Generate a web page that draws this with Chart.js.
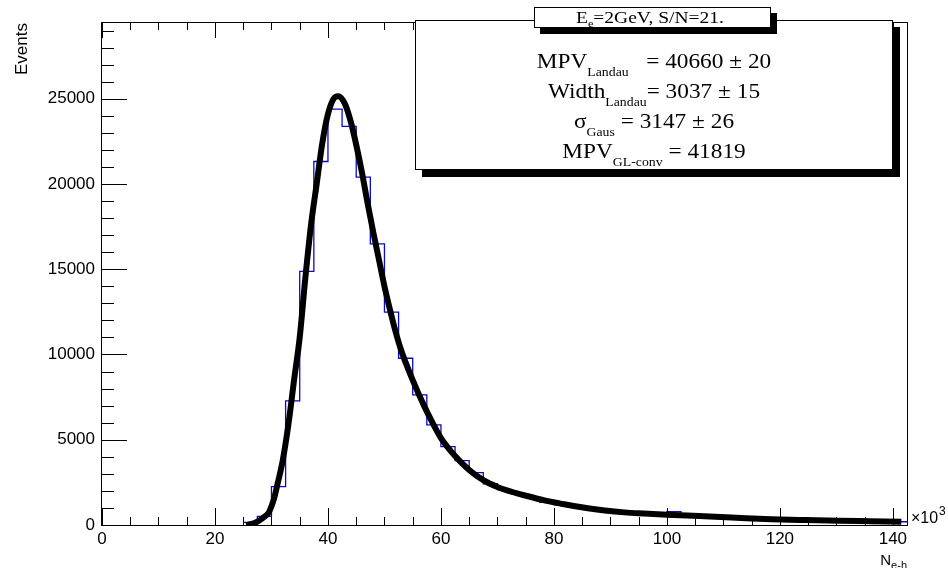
<!DOCTYPE html>
<html>
<head>
<meta charset="utf-8">
<script src="https://cdn.jsdelivr.net/npm/chart.js@4.4.1/dist/chart.umd.min.js"></script>
<style>
  html, body { margin: 0; padding: 0; background: #fff; }
  #wrap { width: 948px; height: 568px; }
</style>
</head>
<body>
<div id="wrap"><canvas id="landauChart" width="948" height="568"></canvas></div>
<script>
// histogram: lower bin edges (x10^3 e-h pairs), last entry is the upper edge
const binEdges = [0, 2.5, 5, 7.5, 10, 12.5, 15, 17.5, 20, 22.5,
  25, 27.5, 30, 32.5, 35, 37.5, 40, 42.5, 45, 47.5,
  50, 52.5, 55, 57.5, 60, 62.5, 65, 67.5, 70, 72.5,
  75, 77.5, 80, 82.5, 85, 87.5, 90, 92.5, 95, 97.5,
  100, 102.5, 105, 107.5, 110, 112.5, 115, 117.5, 120, 122.5,
  125, 127.5, 130, 132.5, 135, 137.5, 140, 142.5];
const binCounts = [0, 0, 0, 0, 0, 0, 0, 0, 0, 0,
  150, 500, 2250, 7280, 14870, 21320, 24390, 23380, 20400, 16490,
  12480, 9780, 7630, 5870, 4600, 3780, 3070, 2420, 2080, 1820,
  1600, 1330, 1200, 1080, 960, 880, 800, 730, 680, 620,
  780, 560, 520, 480, 450, 400, 370, 340, 320, 300,
  290, 270, 250, 240, 220, 210, 190];

// Landau (x) Gauss fit curve
const fitX = [25.5, 26.5, 27.5, 28.5, 29.5, 30, 30.5, 31, 32, 33, 34, 35, 36, 37, 38, 39, 40, 41, 41.8,
  43, 44, 45, 46, 47, 48, 49, 50, 51, 52, 53, 55, 57, 58.5, 60, 62.5, 65, 67.5, 70, 72.5, 75,
  78.5, 81, 83.5, 86, 89, 92.5, 96, 100, 103.5, 108.5, 114, 118.5, 124.5, 130.5, 136, 141.5];
const fitY = [0, 60, 200, 420, 720, 1100, 1600, 2300, 3800, 5900, 8500, 11000, 14500, 17600, 20000, 22400, 24100, 25000, 25150,
  24700, 23700, 22300, 20700, 18900, 17200, 15600, 14000, 12600, 11300, 10200, 8500, 7000, 6000, 5100, 4050, 3230, 2630, 2230, 1950, 1720,
  1430, 1270, 1110, 980, 850, 740, 670, 600, 550, 490, 400, 340, 290, 250, 220, 190];

// axis tick labels
const xTickValues = [0, 20, 40, 60, 80, 100, 120, 140];
const yTickValues = [0, 5000, 10000, 15000, 20000, 25000];

// stats box text
const paveTitle = ['E', 'e', '=2GeV, S/N=21.'];
const statNames = ['MPV', 'Width', '\u03c3', 'MPV'];
const statSubs = ['Landau', 'Landau', 'Gaus', 'GL-conv'];
const statValues = ['   = 40660 \u00b1 20', '= 3037 \u00b1 15', ' = 3147 \u00b1 26', ' = 41819'];

const serif = '"Liberation Serif", "Times New Roman", serif';
const sans = '"Liberation Sans", Arial, sans-serif';

function richWidth(ctx, parts) {
  let w = 0;
  parts.forEach(p => { ctx.font = p.font; w += ctx.measureText(p.text).width; });
  return w;
}

function drawRich(ctx, parts, cx, baseline, sx) {
  const w = richWidth(ctx, parts) * sx;
  ctx.save();
  ctx.translate(cx - w / 2, baseline);
  ctx.scale(sx, 1);
  let x = 0;
  parts.forEach(p => {
    ctx.font = p.font;
    ctx.fillText(p.text, x, p.dy || 0);
    x += ctx.measureText(p.text).width;
  });
  ctx.restore();
}

function pave(ctx, x1, y1, x2, y2, sh) {
  ctx.fillStyle = '#000';
  ctx.fillRect(x1 + sh, y1 + sh, x2 - x1, y2 - y1);
  ctx.fillStyle = '#fff';
  ctx.fillRect(x1, y1, x2 - x1, y2 - y1);
  ctx.strokeStyle = '#000';
  ctx.lineWidth = 1;
  ctx.strokeRect(x1 + 0.5, y1 + 0.5, x2 - x1 - 1, y2 - y1 - 1);
}

const rootStyle = {
  id: 'rootStyle',
  afterDatasetsDraw(chart) {
    const ctx = chart.ctx, a = chart.chartArea;
    const xs = chart.scales.x, ys = chart.scales.y;
    ctx.save();
    ctx.strokeStyle = '#000';
    ctx.lineWidth = 1;
    ctx.beginPath();
    // x ticks (bottom and top), 4 divisions per major step
    const xStep = (xTickValues[1] - xTickValues[0]) / 4;
    for (let k = 0; xs.min + k * xStep <= xs.max + 1e-9; k++) {
      const v = xs.min + k * xStep;
      const px = Math.round(xs.getPixelForValue(v)) + 0.5;
      const major = k % 4 === 0;
      ctx.moveTo(px, a.bottom); ctx.lineTo(px, a.bottom - (major ? 17 : 8));
      ctx.moveTo(px, a.top); ctx.lineTo(px, a.top + (major ? 16 : 8));
    }
    // y ticks, 5 divisions per major step
    const yStep = (yTickValues[1] - yTickValues[0]) / 5;
    for (let k = 1; ys.min + k * yStep <= ys.max + 1e-9; k++) {
      const v = ys.min + k * yStep;
      const py = Math.round(ys.getPixelForValue(v)) + 0.5;
      const major = k % 5 === 0;
      ctx.moveTo(a.left, py); ctx.lineTo(a.left + (major ? 25 : 12), py);
    }
    ctx.stroke();
    ctx.strokeRect(Math.round(a.left) - 0.5, Math.round(a.top) + 0.5,
      Math.round(a.right - a.left) + 1, Math.round(a.bottom - a.top));
    ctx.restore();
  },
  afterDraw(chart) {
    const ctx = chart.ctx;
    ctx.save();
    ctx.fillStyle = '#000';
    ctx.textBaseline = 'alphabetic';

    // y title
    ctx.save();
    ctx.translate(27, 23);
    ctx.rotate(-Math.PI / 2);
    ctx.textAlign = 'right';
    ctx.font = '17px ' + sans;
    ctx.fillText('Events', 0, 0);
    ctx.restore();

    // x title N_e-h, right aligned at axis end
    ctx.textAlign = 'left';
    const nParts = [{ text: 'N', font: '15px ' + sans }, { text: 'e-h', font: '11px ' + sans, dy: 4 }];
    const nw = richWidth(ctx, nParts);
    drawRich(ctx, nParts, 907 - nw / 2, 565, 1);

    // x10^3
    ctx.font = '16px ' + sans;
    ctx.fillText('\u00d710', 911, 523);
    ctx.font = '12px ' + sans;
    ctx.fillText('3', 939, 515);

    // stats pave
    pave(ctx, 415, 20, 893, 170, 7);
    ctx.fillStyle = '#000';
    const baselines = [68, 98, 128, 158];
    statNames.forEach((n, i) => {
      drawRich(ctx, [
        { text: n, font: '22px ' + serif },
        { text: statSubs[i], font: '13px ' + serif, dy: 8 },
        { text: statValues[i], font: '22px ' + serif }
      ], 654, baselines[i], 1.06);
    });

    // title pave
    pave(ctx, 534, 7, 771, 28, 6);
    ctx.fillStyle = '#000';
    drawRich(ctx, [
      { text: paveTitle[0], font: '16px ' + serif },
      { text: paveTitle[1], font: '10px ' + serif, dy: 4 },
      { text: paveTitle[2], font: '16px ' + serif }
    ], 650, 23, 1.22);
    ctx.restore();
  }
};

// empty leading bins lie on the axis line; start the outline at the last empty bin
const firstBin = Math.max(0, binCounts.findIndex(c => c > 0) - 1);
const histData = binEdges.map((e, i) => ({ x: e, y: binCounts[Math.min(i, binCounts.length - 1)] }))
  .slice(firstBin + 1);
const fitData = fitX.map((x, i) => ({ x: x, y: fitY[i] }));

const ctx = document.getElementById('landauChart').getContext('2d');
const landauChart = new Chart(ctx, {
  type: 'line',
  data: {
    datasets: [{
      label: 'fit',
      data: fitData,
      borderColor: '#000',
      borderWidth: 6,
      pointRadius: 0,
      cubicInterpolationMode: 'monotone',
      fill: false
    }, {
      label: 'hist',
      data: histData,
      borderColor: '#0a0ac8',
      borderWidth: 1.3,
      pointRadius: 0,
      stepped: true,
      fill: false
    }]
  },
  options: {
    responsive: false,
    animation: false,
    devicePixelRatio: 1,
    layout: { padding: { top: 22, right: 41, left: 0, bottom: 0 } },
    plugins: { legend: { display: false }, tooltip: { enabled: false } },
    scales: {
      x: {
        type: 'linear', min: 0, max: 142.5,
        afterFit: s => { s.height = 43; },
        afterBuildTicks: s => { s.ticks = xTickValues.map(v => ({ value: v })); },
        grid: { display: false, drawTicks: false },
        border: { display: false },
        ticks: {
          autoSkip: false, maxRotation: 0, padding: 4, color: '#000',
          font: { family: 'Liberation Sans', size: 17 },
          callback: v => String(v)
        }
      },
      y: {
        type: 'linear', min: 0, max: 29500,
        afterFit: s => { s.width = 102; },
        afterBuildTicks: s => { s.ticks = yTickValues.map(v => ({ value: v })); },
        grid: { display: false, drawTicks: false },
        border: { display: false },
        ticks: {
          autoSkip: false, padding: 7, color: '#000',
          font: { family: 'Liberation Sans', size: 17 },
          callback: v => String(v)
        }
      }
    }
  },
  plugins: [rootStyle]
});
</script>
</body>
</html>
